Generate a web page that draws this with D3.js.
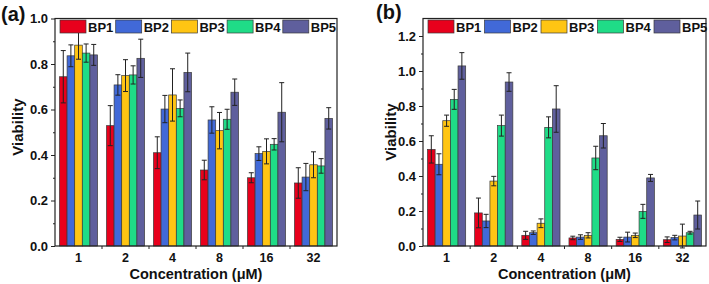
<!DOCTYPE html>
<html>
<head>
<meta charset="utf-8">
<script src="https://cdn.jsdelivr.net/npm/d3@7"></script>
<style>
  body { margin: 0; background: #fff; }
  text { font-family: "Liberation Sans", Arial, sans-serif; font-weight: bold; fill: #111; }
</style>
</head>
<body>
<svg id="chart" width="709" height="284"></svg>
<script>
// categories and series
var concentrations = ["1", "2", "4", "8", "16", "32"];
var seriesNames = ["BP1", "BP2", "BP3", "BP4", "BP5"];
var seriesColors = ["#e8001c", "#4169d8", "#ffc513", "#1fdc87", "#5f5f9d"];

// panel (a): one row per series, one value per concentration
var meansA = [
    [0.744, 0.529, 0.410, 0.334, 0.300, 0.277],
    [0.836, 0.708, 0.602, 0.554, 0.406, 0.303],
    [0.883, 0.749, 0.664, 0.507, 0.416, 0.357],
    [0.848, 0.752, 0.605, 0.557, 0.447, 0.352],
    [0.840, 0.825, 0.763, 0.676, 0.588, 0.561]
];
var errA = [
    [0.115, 0.088, 0.070, 0.043, 0.022, 0.067],
    [0.048, 0.045, 0.060, 0.058, 0.030, 0.060],
    [0.062, 0.070, 0.115, 0.080, 0.055, 0.057],
    [0.040, 0.040, 0.037, 0.044, 0.025, 0.032],
    [0.046, 0.084, 0.085, 0.058, 0.130, 0.047]
];
var yTicksA = [0, 0.2, 0.4, 0.6, 0.8, 1.0];

// panel (b)
var meansB = [
    [0.552, 0.189, 0.061, 0.046, 0.038, 0.036],
    [0.467, 0.143, 0.076, 0.051, 0.051, 0.048],
    [0.716, 0.371, 0.130, 0.061, 0.061, 0.057],
    [0.838, 0.688, 0.678, 0.503, 0.198, 0.076],
    [1.029, 0.937, 0.783, 0.630, 0.389, 0.177]
];
var errB = [
    [0.078, 0.085, 0.023, 0.010, 0.012, 0.016],
    [0.060, 0.038, 0.010, 0.013, 0.028, 0.013],
    [0.032, 0.027, 0.025, 0.015, 0.013, 0.068],
    [0.057, 0.060, 0.060, 0.067, 0.040, 0.008],
    [0.076, 0.053, 0.133, 0.070, 0.020, 0.080]
];
var yTicksB = [0, 0.2, 0.4, 0.6, 0.8, 1.0, 1.2];

function drawPanel (svg, cfg) {
    let x = d3.scaleBand()
        .domain(concentrations)
        .range([cfg.left, cfg.right])
        .paddingInner(0.19)
        .paddingOuter(0.095);

    let xBand = d3.scaleBand()
        .domain(concentrations)
        .range([cfg.left, cfg.right]);

    let xSub = d3.scaleBand()
        .domain(seriesNames)
        .range([0, x.bandwidth()]);

    let y = d3.scaleLinear()
        .domain([0, cfg.yMax])
        .range([cfg.bottom, cfg.top]);

    let g = svg.append("g");

    // bars
    seriesNames.forEach(function (s, si) {
        let rows = concentrations.map(function (c, ci) {
            return { c: c, v: cfg.means[si][ci], e: cfg.errs[si][ci] };
        });

        g.selectAll(".bar-" + s)
            .data(rows)
            .enter()
            .append("rect")
            .attr("x", d => x(d.c) + xSub(s))
            .attr("y", d => y(d.v))
            .attr("width", xSub.bandwidth())
            .attr("height", d => cfg.bottom - y(d.v))
            .style("fill", seriesColors[si])
            .style("stroke", "#3a3a3a")
            .style("stroke-width", 0.7);

        let eb = g.selectAll(".err-" + s)
            .data(rows)
            .enter()
            .append("g")
            .attr("transform", d => "translate(" + (x(d.c) + xSub(s) + xSub.bandwidth() / 2) + ",0)");

        eb.append("line")
            .attr("y1", d => y(d.v - d.e))
            .attr("y2", d => y(d.v + d.e))
            .style("stroke", "#222")
            .style("stroke-width", 1);
        eb.append("line")
            .attr("x1", -2.5).attr("x2", 2.5)
            .attr("y1", d => y(d.v + d.e)).attr("y2", d => y(d.v + d.e))
            .style("stroke", "#222").style("stroke-width", 1);
        eb.append("line")
            .attr("x1", -2.5).attr("x2", 2.5)
            .attr("y1", d => y(d.v - d.e)).attr("y2", d => y(d.v - d.e))
            .style("stroke", "#222").style("stroke-width", 1);
    });

    // y axis, major + minor ticks
    let minor = [];
    for (let i = 0; i < cfg.yTicks.length; i++) {
        let m = cfg.yTicks[i] + 0.1;
        if (m < cfg.yMax) minor.push(m);
    }
    let yMinor = d3.axisLeft(y).tickValues(minor).tickSize(2).tickFormat("");
    svg.append("g")
        .attr("transform", "translate(" + cfg.left + ",0)")
        .call(yMinor);

    let yAxis = d3.axisLeft(y)
        .tickValues(cfg.yTicks)
        .tickSize(4)
        .tickPadding(3)
        .tickFormat(d3.format(".1f"));
    let ya = svg.append("g")
        .attr("transform", "translate(" + cfg.left + ",0)")
        .call(yAxis);
    ya.selectAll("text").style("font-size", "13px");

    // x axis: labels at group centres, ticks at group borders
    let xAxis = d3.axisBottom(xBand).tickSize(0).tickPadding(7);
    let xa = svg.append("g")
        .attr("transform", "translate(0," + cfg.bottom + ")")
        .call(xAxis);
    xa.selectAll("text").style("font-size", "12.5px");

    let borders = concentrations.slice(1).map(c => xBand(c));
    svg.append("g")
        .selectAll("line")
        .data(borders)
        .enter()
        .append("line")
        .attr("x1", d => d).attr("x2", d => d)
        .attr("y1", cfg.bottom).attr("y2", cfg.bottom + 3)
        .style("stroke", "#222");

    svg.selectAll(".domain").remove();
    svg.selectAll(".tick line").style("stroke", "#222");

    // frame
    svg.append("rect")
        .attr("x", cfg.left)
        .attr("y", cfg.top)
        .attr("width", cfg.right - cfg.left)
        .attr("height", cfg.bottom - cfg.top)
        .style("fill", "none")
        .style("stroke", "#222")
        .style("stroke-width", 1.2);

    // legend
    let lg = svg.append("g");
    seriesNames.forEach(function (s, si) {
        let lx = cfg.left + 5 + si * cfg.legendStep;
        lg.append("rect")
            .attr("x", lx).attr("y", 20)
            .attr("width", 26).attr("height", 13)
            .style("fill", seriesColors[si])
            .style("stroke", "#3a3a3a")
            .style("stroke-width", 0.7);
        lg.append("text")
            .attr("x", lx + 28).attr("y", 31.5)
            .style("font-size", "13px")
            .text(s);
    });

    // titles
    svg.append("text")
        .attr("text-anchor", "middle")
        .attr("x", (cfg.left + cfg.right) / 2)
        .attr("y", 279)
        .style("font-size", "14.5px")
        .text("Concentration (\u03bcM)");

    svg.append("text")
        .attr("text-anchor", "middle")
        .attr("transform", "translate(" + cfg.yTitleX + "," + cfg.yTitleY + ") rotate(-90)")
        .style("font-size", "15px")
        .text("Viability");

    svg.append("text")
        .attr("x", cfg.labelX)
        .attr("y", cfg.labelY)
        .style("font-size", "20px")
        .text(cfg.label);
}

let svg = d3.select("#chart");

drawPanel(svg, {
    left: 55, right: 337, top: 18.5, bottom: 246, yMax: 1.0,
    means: meansA, errs: errA, yTicks: yTicksA,
    legendStep: 55.7, yTitleX: 23, yTitleY: 127,
    label: "(a)", labelX: 1, labelY: 21
});

drawPanel(svg, {
    left: 423, right: 706, top: 18.5, bottom: 246, yMax: 1.3,
    means: meansB, errs: errB, yTicks: yTicksB,
    legendStep: 56.5, yTitleX: 396, yTitleY: 132,
    label: "(b)", labelX: 376, labelY: 19
});
</script>
</body>
</html>
